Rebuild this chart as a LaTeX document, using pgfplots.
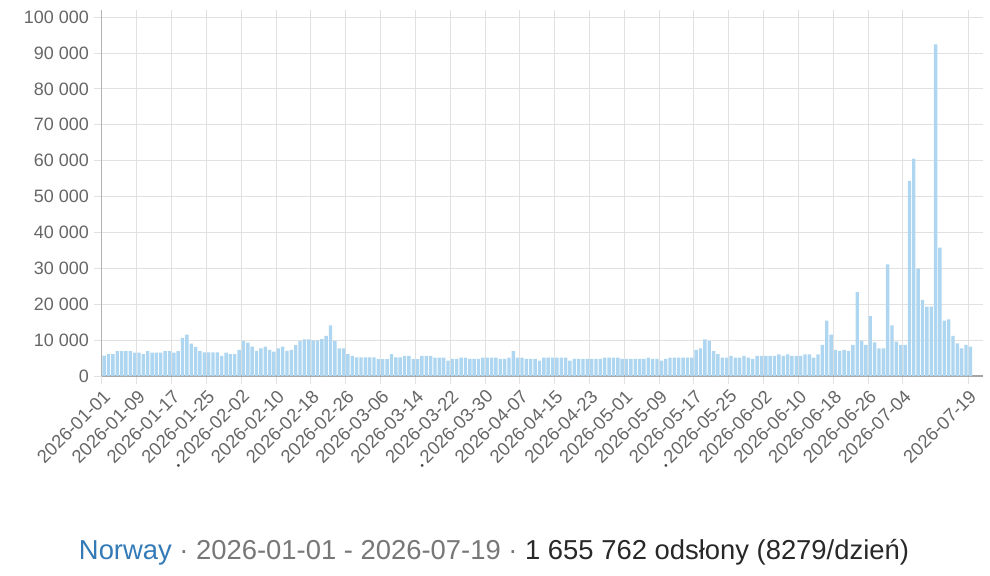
\documentclass[border=0pt]{standalone}
\usepackage{pgfplots}
\pgfplotsset{compat=1.18}
\usepackage{pgfplotstable}
\usepackage{fontspec}
\setmainfont{Liberation Sans}

\definecolor{barblue}{HTML}{AED6F1}
\definecolor{gridc}{RGB}{225,225,225}
\definecolor{axisc}{RGB}{165,165,165}
\definecolor{tickc}{RGB}{102,102,102}
\definecolor{norw}{RGB}{51,122,183}
\definecolor{capgray}{RGB}{119,119,119}
\definecolor{capdark}{RGB}{40,40,40}

% daily page views, day 0 = 2026-01-01
\pgfplotstableread{
d v
0 5700
1 6100
2 6100
3 6900
4 6900
5 6900
6 6900
7 6500
8 6500
9 6100
10 6900
11 6500
12 6500
13 6500
14 6900
15 6900
16 6500
17 6900
18 10600
19 11500
20 9000
21 8100
22 6900
23 6600
24 6600
25 6600
26 6600
27 5600
28 6500
29 6100
30 6100
31 7300
32 9800
33 9300
34 8200
35 7000
36 7700
37 8200
38 7300
39 6800
40 7700
41 8200
42 7000
43 7300
44 8700
45 9800
46 10200
47 10200
48 9900
49 9900
50 10300
51 11200
52 14100
53 9800
54 7700
55 7700
56 6100
57 5600
58 5200
59 5200
60 5200
61 5200
62 5200
63 4700
64 4700
65 4700
66 6100
67 5200
68 5200
69 5600
70 5600
71 4700
72 4700
73 5600
74 5600
75 5600
76 5100
77 5100
78 5100
79 4300
80 4800
81 4800
82 5100
83 5100
84 4800
85 4800
86 4800
87 5100
88 5100
89 5100
90 5100
91 4800
92 4800
93 5100
94 6900
95 5100
96 5100
97 4800
98 4800
99 4800
100 4300
101 5100
102 5100
103 5100
104 5100
105 5100
106 5100
107 4300
108 4800
109 4800
110 4800
111 4800
112 4800
113 4800
114 4800
115 5100
116 5100
117 5100
118 5100
119 4800
120 4800
121 4800
122 4800
123 4800
124 4800
125 5100
126 4800
127 4800
128 4300
129 4800
130 5100
131 5100
132 5100
133 5100
134 5100
135 5100
136 7300
137 7700
138 10200
139 9800
140 6900
141 6100
142 5100
143 5100
144 5600
145 5100
146 5100
147 5600
148 5100
149 4800
150 5600
151 5600
152 5600
153 5600
154 5600
155 6000
156 5600
157 6000
158 5600
159 5600
160 5600
161 6000
162 6000
163 5100
164 6000
165 8700
166 15400
167 11500
168 7300
169 7000
170 7300
171 7000
172 8700
173 23400
174 9800
175 8700
176 16700
177 9400
178 7700
179 7700
180 31100
181 14100
182 9600
183 8700
184 8700
185 54400
186 60600
187 29900
188 21200
189 19300
190 19300
191 92400
192 35800
193 15400
194 15800
195 11200
196 9100
197 7700
198 8700
199 8200
}\views

\newcommand{\dotmark}{{\color{black!75}\fontsize{10}{10}\selectfont\raisebox{-1bp}{•}}\,}

\begin{document}
\begin{tikzpicture}
\useasboundingbox (-102bp,-200bp) rectangle (888bp,376bp);
\begin{axis}[
    at={(0,0)}, anchor=south west,
    scale only axis,
    width=881bp, height=366bp,
    xmin=0, xmax=202.4,
    ymin=0, ymax=102000,
    axis x line*=bottom,
    axis y line*=left,
    axis line style={-},
    x axis line style={color=axisc, line width=1.5bp},
    y axis line style={color=axisc!85, line width=1bp},
    tick align=outside,
    major tick length=8bp,
    tick style={color=gridc, line width=1bp},
    grid=major,
    major grid style={color=gridc, line width=1bp},
    xtick={0,8,...,184,199},
    xticklabels={2026-01-01,2026-01-09,2026-01-17,2026-01-25,\dotmark 2026-02-02,2026-02-10,2026-02-18,2026-02-26,2026-03-06,2026-03-14,2026-03-22,\dotmark 2026-03-30,2026-04-07,2026-04-15,2026-04-23,2026-05-01,2026-05-09,2026-05-17,\dotmark 2026-05-25,2026-06-02,2026-06-10,2026-06-18,2026-06-26,2026-07-04,2026-07-19},
    ytick={0,10000,...,100000},
    yticklabels={0,10 000,20 000,30 000,40 000,50 000,60 000,70 000,80 000,90 000,100 000},
    ticklabel style={text=tickc},
    x tick label style={font=\fontsize{18.5}{21}\selectfont, rotate=45, anchor=east, inner sep=1bp, yshift=-10bp, xshift=-2bp},
    y tick label style={font=\fontsize{18}{21}\selectfont, anchor=east, inner sep=1bp, xshift=-4bp},
]
\addplot[ybar, bar width=0.78, fill=barblue, draw=none]
    table[x expr=\thisrow{d}+0.5, y=v] {\views};
\end{axis}
\node[anchor=base, font=\fontsize{27.5}{32}\selectfont] at (392bp,-183bp)
    {\textcolor{norw}{Norway}\textcolor{capgray}{\ · 2026-01-01 - 2026-07-19 ·\ }\textcolor{capdark}{1 655 762 odsłony (8279/dzień)}};
\end{tikzpicture}
\end{document}
